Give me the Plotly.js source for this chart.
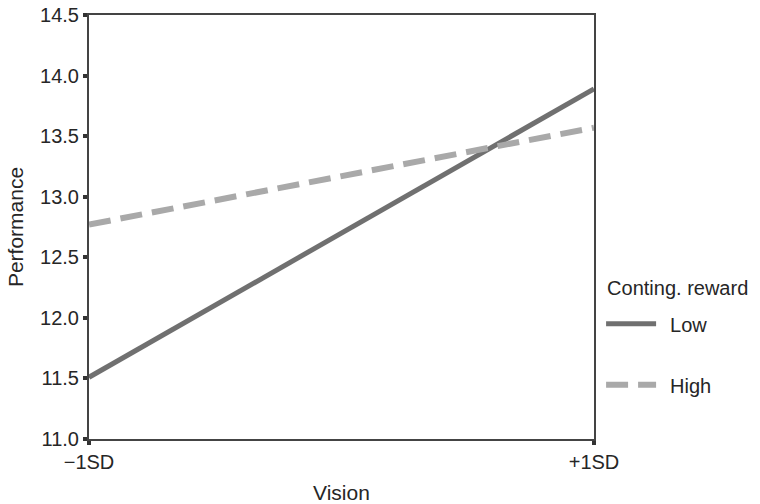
<!DOCTYPE html>
<html><head><meta charset="utf-8">
<script src="https://cdn.plot.ly/plotly-3.0.1.min.js"></script>
<style>body{margin:0;background:#fff}#c{width:760px;height:504px}</style>
</head><body><div id="c"></div>
<script>
var categories = ['\u22121SD', '+1SD'];
var lowValues = [11.51, 13.89];
var highValues = [12.77, 13.57];
var seriesNames = ['Low', 'High'];
var yTicks = [11.0, 11.5, 12.0, 12.5, 13.0, 13.5, 14.0, 14.5];

var font = {family: 'Liberation Sans, Arial, sans-serif', size: 20, color: '#262626'};
var titleFont = {family: 'Liberation Sans, Arial, sans-serif', size: 21, color: '#262626'};
var traces = [
  {x: categories, y: lowValues, name: seriesNames[0], mode: 'lines', legendgroup: 'a',
   line: {color: '#707070', width: 5}},
  {x: categories, y: highValues, name: seriesNames[1], mode: 'lines', legendgroup: 'b',
   line: {color: '#a9a9a9', width: 6, dash: '22px,10px'}}
];
var layout = {
  width: 760, height: 504,
  margin: {l: 89, r: 166, t: 15, b: 65, autoexpand: false},
  paper_bgcolor: '#fff', plot_bgcolor: '#fff',
  font: font,
  showlegend: true,
  legend: {x: 1.018, y: 0.379, xanchor: 'left', yanchor: 'top',
    title: {text: 'Conting. reward', font: font},
    traceorder: 'grouped', tracegroupgap: 32, itemwidth: 57, font: font},
  xaxis: {type: 'category', range: [0, 1], showgrid: false, zeroline: false,
    showline: true, mirror: true, linecolor: '#444', linewidth: 2,
    ticks: 'outside', ticklen: 4, tickwidth: 4, tickcolor: '#333',
    tickfont: font, title: {text: 'Vision', font: titleFont, standoff: 13}},
  yaxis: {range: [11.0, 14.5], tickvals: yTicks, ticktext: yTicks.map(function(v){return v.toFixed(1);}),
    showgrid: false, zeroline: false,
    showline: true, mirror: true, linecolor: '#444', linewidth: 2,
    ticks: 'outside', ticklen: 4, tickwidth: 4, tickcolor: '#333',
    tickfont: font, title: {text: 'Performance', font: titleFont, standoff: 11}}
};
Plotly.newPlot('c', traces, layout, {displayModeBar: false}).then(function(gd){
  var paths = gd.querySelectorAll('.legend .legendlines path');
  paths.forEach(function(p){ p.setAttribute('d', 'M3,0h50'); });
  var t = gd.querySelector('.legend .legendtitletext');
  if (t) { t.setAttribute('transform', 'translate(2,-9)'); }
});
</script></body></html>
